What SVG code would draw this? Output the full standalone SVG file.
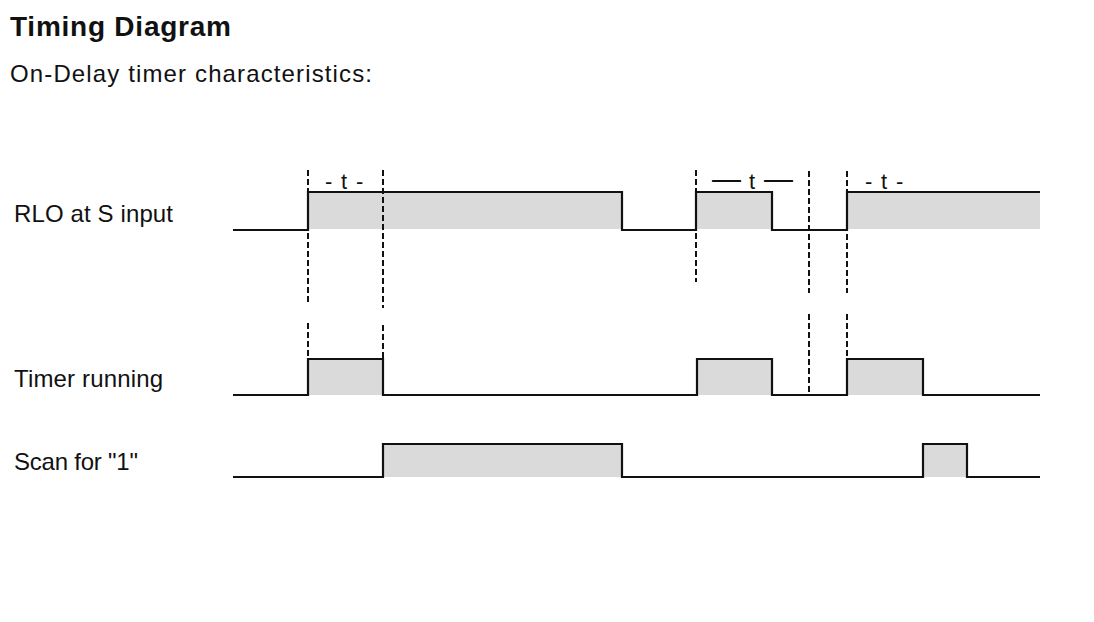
<svg xmlns="http://www.w3.org/2000/svg" width="1094" height="622" viewBox="0 0 1094 622">
<style>
.lbl{font-family:"Liberation Sans",Arial,sans-serif;font-size:24px;fill:#111}
.t{font-family:"Liberation Sans",Arial,sans-serif;font-size:22px;fill:#111}
.em{font-family:"Liberation Sans",Arial,sans-serif;font-size:29px;fill:#111}
.sig{fill:none;stroke:#111;stroke-width:2.2}
.fill{fill:#dadada}
.dash{stroke:#111;stroke-width:2;stroke-dasharray:6 3;fill:none}
</style>
<rect width="1094" height="622" fill="#fff"/>
<g id="title">
<text x="10" y="36" font-family="Liberation Sans,Arial,sans-serif" font-weight="bold" font-size="28" fill="#111" textLength="221">Timing Diagram</text>
<text x="10" y="82" class="lbl" textLength="362">On-Delay timer characteristics:</text>
</g>
<g id="rlo">
<text x="14" y="222" class="lbl" textLength="159">RLO at S input</text>
<rect class="fill" x="309" y="193" width="313" height="36"/>
<rect class="fill" x="697" y="193" width="75" height="36"/>
<rect class="fill" x="848" y="193" width="192" height="36"/>
<polyline class="sig" points="233,230 308,230 308,192 622,192 622,230 696,230 696,192 772,192 772,230 847,230 847,192 1040,192"/>
</g>
<g id="timer">
<text x="14" y="387" class="lbl" textLength="149">Timer running</text>
<rect class="fill" x="309" y="360" width="74" height="35"/>
<rect class="fill" x="697" y="360" width="75" height="35"/>
<rect class="fill" x="848" y="360" width="75" height="35"/>
<polyline class="sig" points="233,395 308,395 308,359 383,359 383,395 697,395 697,359 772,359 772,395 847,395 847,359 923,359 923,395 1040,395"/>
</g>
<g id="scan">
<text x="14" y="470" class="lbl" textLength="124">Scan for "1"</text>
<rect class="fill" x="384" y="445" width="238" height="32"/>
<rect class="fill" x="924" y="445" width="43" height="32"/>
<polyline class="sig" points="233,477 383,477 383,444 622,444 622,477 923,477 923,444 967,444 967,477 1040,477"/>
</g>
<g id="connectors">
<line class="dash" x1="308" y1="170" x2="308" y2="303"/>
<line class="dash" x1="308" y1="323" x2="308" y2="359"/>
<line class="dash" x1="383" y1="170" x2="383" y2="308"/>
<line class="dash" x1="383" y1="325" x2="383" y2="359"/>
<line class="dash" x1="696" y1="170" x2="696" y2="282"/>
<line class="dash" x1="809" y1="171" x2="809" y2="293"/>
<line class="dash" x1="809" y1="314" x2="809" y2="395"/>
<line class="dash" x1="847" y1="171" x2="847" y2="293"/>
<line class="dash" x1="847" y1="314" x2="847" y2="395"/>
</g>
<g id="labels">
<text class="t" y="189"><tspan x="325">-</tspan><tspan x="341">t</tspan><tspan x="356">-</tspan></text>
<text class="em" x="712" y="189">—</text>
<text class="t" x="749" y="189">t</text>
<text class="em" x="764" y="189">—</text>
<text class="t" y="189"><tspan x="865">-</tspan><tspan x="881">t</tspan><tspan x="896">-</tspan></text>
</g>
</svg>
